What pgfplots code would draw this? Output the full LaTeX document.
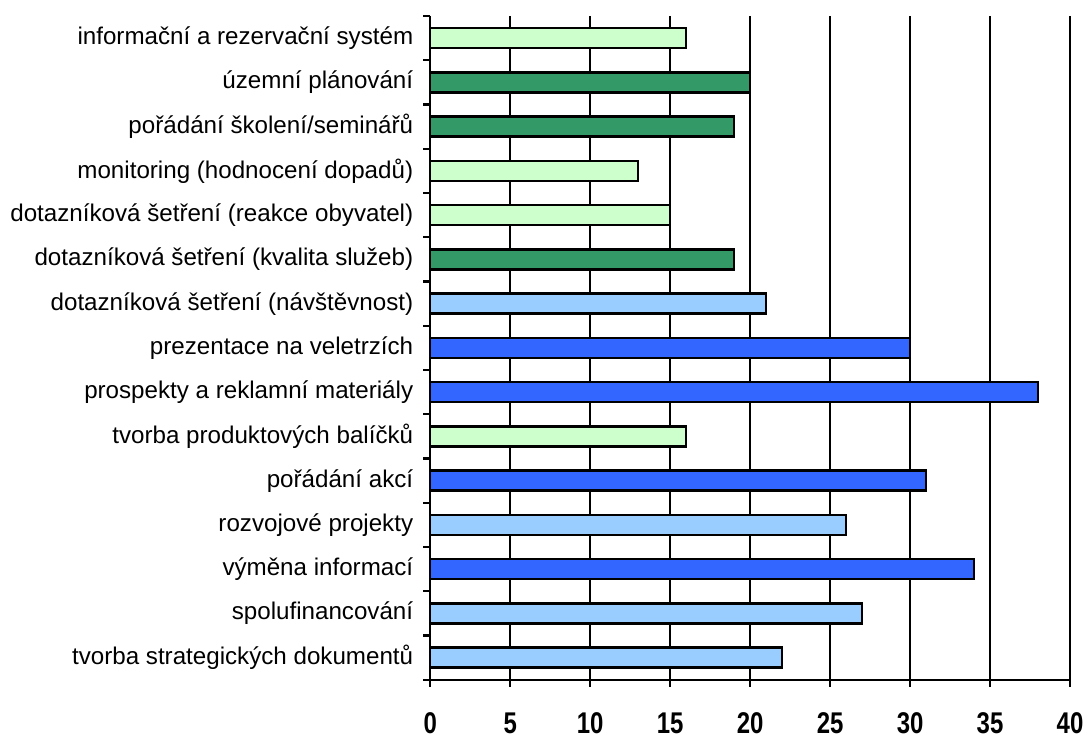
\documentclass[border=0pt]{standalone}
\usepackage{graphicx}
\usepackage{pgfplots}
\pgfplotsset{compat=1.18}
\usepackage{fontspec}
\setmainfont{Liberation Sans}

\definecolor{lgreen}{HTML}{CCFFCC}
\definecolor{dgreen}{HTML}{339966}
\definecolor{lblue}{HTML}{99CCFF}
\definecolor{mblue}{HTML}{3366FF}

\begin{document}
\begin{tikzpicture}
\begin{axis}[
  scale only axis,
  width=320.5pt, height=332.5pt,
  xbar, bar shift=0pt, bar width=0.45,
  xmin=0, xmax=40,
  ymin=-0.5, ymax=14.5,
  y dir=reverse,
  axis x line=bottom, axis y line=left,
  axis line style={-, line width=1.2pt},
  xtick={0,5,...,40},
  xmajorgrids,
  major grid style={black, line width=1.2pt},
  tick align=outside,
  major tick length=3.5pt,
  minor tick length=3.5pt,
  every tick/.style={black, line width=1.2pt},
  ytick={0,...,14},
  major y tick style={draw=none},
  minor ytick={-0.5,0.5,...,14.5},
  yticklabels={
    informační a rezervační systém,
    územní plánování,
    pořádání školení/seminářů,
    monitoring (hodnocení dopadů),
    dotazníková šetření (reakce obyvatel),
    dotazníková šetření (kvalita služeb),
    dotazníková šetření (návštěvnost),
    prezentace na veletrzích,
    prospekty a reklamní materiály,
    tvorba produktových balíčků,
    pořádání akcí,
    rozvojové projekty,
    výměna informací,
    spolufinancování,
    tvorba strategických dokumentů},
  yticklabel style={font=\fontsize{12.1}{14}\selectfont, xshift=-1.5pt},
  xticklabel={\scalebox{1}[1.25]{\pgfmathprintnumber{\tick}}},
  xticklabel style={font=\fontsize{12}{14}\selectfont\bfseries, anchor=center, yshift=-18.5pt},
  /pgf/number format/assume math mode=true,
  every axis plot/.append style={draw=black, line width=1.2pt},
  clip=false,
]
% informational / planning activities
\addplot[fill=lgreen] coordinates {(16,0) (13,3) (15,4) (16,9)};
\addplot[fill=dgreen] coordinates {(20,1) (19,2) (19,5)};
\addplot[fill=lblue] coordinates {(21,6) (26,11) (27,13) (22,14)};
\addplot[fill=mblue] coordinates {(30,7) (38,8) (31,10) (34,12)};
\end{axis}
\path ([xshift=-215.5pt,yshift=-25pt]current axis.south west) rectangle ++(545pt,365.5pt);
\end{tikzpicture}
\end{document}
